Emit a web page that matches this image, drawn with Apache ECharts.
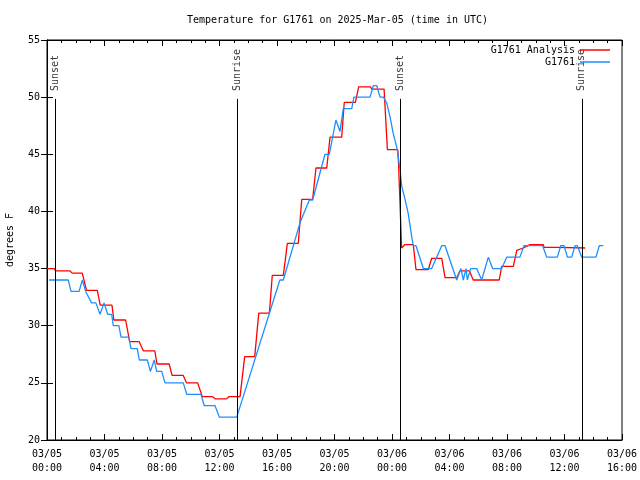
<!DOCTYPE html>
<html>
<head>
<meta charset="utf-8">
<script src="https://cdn.jsdelivr.net/npm/echarts@6/dist/echarts.min.js"></script>
<style>html,body{margin:0;padding:0;background:#fff}#c{width:640px;height:480px}</style>
</head>
<body>
<div id="c"></div>
<script>
// hours since 03/05 00:00 UTC
const analysisTimes = [0, 0.5, 0.6, 1.6, 1.75, 2.45, 2.75, 3.5, 3.7, 4.52, 4.65, 5.47, 5.75, 6.42, 6.7, 7.5, 7.65, 8.5, 8.7, 9.48, 9.7, 10.48, 10.8, 11.5, 11.7, 12.5, 12.67, 13.43, 13.75, 14.45, 14.73, 15.47, 15.67, 16.44, 16.72, 17.48, 17.72, 18.48, 18.71, 19.46, 19.69, 20.5, 20.68, 21.45, 21.68, 22.5, 22.6, 23.45, 23.68, 24.4, 24.45, 24.55, 24.67, 24.9, 25.48, 25.67, 26.52, 26.76, 27.46, 27.69, 28.5, 28.73, 29.38, 29.65, 31.46, 31.63, 32.44, 32.68, 33.13, 33.6, 34.53, 34.57, 35.64, 35.69, 37.43];
const analysisTemps = [35.0, 35.0, 34.8, 34.8, 34.6, 34.6, 33.1, 33.1, 31.8, 31.8, 30.5, 30.5, 28.6, 28.6, 27.8, 27.8, 26.65, 26.65, 25.65, 25.65, 25.0, 25.0, 23.8, 23.8, 23.6, 23.6, 23.8, 23.8, 27.3, 27.3, 31.1, 31.1, 34.4, 34.4, 37.2, 37.2, 41.05, 41.05, 43.8, 43.8, 46.5, 46.5, 49.55, 49.55, 50.9, 50.9, 50.7, 50.7, 45.4, 45.4, 44.35, 44.35, 36.8, 37.1, 37.1, 34.9, 34.9, 35.9, 35.9, 34.2, 34.2, 34.8, 34.8, 34.0, 34.0, 35.2, 35.2, 36.6, 36.8, 37.1, 37.1, 36.85, 36.85, 36.95, 36.8];

const obsTimes = [0.15, 1.48, 1.67, 2.23, 2.46, 2.69, 3.1, 3.4, 3.69, 3.97, 4.22, 4.5, 4.61, 5.0, 5.15, 5.7, 5.84, 6.28, 6.42, 6.98, 7.19, 7.46, 7.63, 7.98, 8.21, 9.48, 9.72, 10.71, 10.94, 11.69, 11.99, 13.2, 16.2, 16.44, 17.6, 17.72, 18.25, 18.48, 19.34, 19.64, 20.1, 20.38, 20.61, 21.2, 21.35, 22.47, 22.7, 22.94, 23.17, 23.4, 23.63, 23.86, 24.09, 24.37, 24.56, 24.68, 24.9, 25.13, 25.37, 25.48, 25.67, 26.18, 26.76, 27.46, 27.69, 28.5, 28.8, 28.96, 29.15, 29.24, 29.47, 29.89, 30.24, 30.7, 31.0, 31.63, 31.98, 32.9, 33.18, 34.48, 34.76, 35.5, 35.74, 35.97, 36.2, 36.5, 36.73, 36.89, 37.2, 38.19, 38.42, 38.7];
const obsTemps = [34, 34, 33, 33, 34, 33, 32, 32, 31, 32, 31, 31, 30, 30, 29, 29, 28, 28, 27, 27, 26, 27, 26, 26, 25, 25, 24, 24, 23, 23, 22, 22, 34, 34, 39, 39, 41, 41, 45, 45, 48, 47, 49, 49, 50, 50, 51, 51, 50, 50, 49.5, 48.3, 46.8, 45.4, 43.6, 42.2, 41.1, 39.8, 37.8, 37, 37, 35, 35, 37, 37, 34, 35, 34, 35, 34, 35, 35, 34, 36, 35, 35, 36, 36, 37, 37, 36, 36, 37, 37, 36, 36, 37, 37, 36, 36, 37, 37];

const sunTimes = [0.58, 13.23, 24.58, 37.2];
const sunLabels = ['Sunset', 'Sunrise', 'Sunset', 'Sunrise'];

const xTickDays = ['03/05', '03/06'];
const FONT = 'DejaVu Sans Mono';

const zip = (a, b) => a.map((t, i) => [t, b[i]]);

function xLabel(h) {
  const d = xTickDays[Math.floor(h / 24)] || xTickDays[xTickDays.length - 1];
  const hh = Math.round(h % 24);
  return d + '\n' + String(hh).padStart(2, '0') + ':00';
}

const axisCommonX = {
  type: 'value', min: 0, max: 40, interval: 4,
  axisLine: { show: true, lineStyle: { color: '#000', width: 1 } },
  axisTick: { show: true, inside: true, length: 6, lineStyle: { color: '#000' } },
  minorTick: { show: true, splitNumber: 4, length: 3, lineStyle: { color: '#000' } },
  splitLine: { show: false }
};
const axisCommonY = {
  type: 'value', min: 20, max: 55, interval: 5,
  axisLine: { show: true, lineStyle: { color: '#000', width: 1 } },
  axisTick: { show: true, inside: true, length: 6, lineStyle: { color: '#000' } },
  splitLine: { show: false }
};

const chart = echarts.init(document.getElementById('c'));
chart.setOption({
  animation: false,
  textStyle: { fontFamily: FONT },
  title: {
    text: 'Temperature for G1761 on 2025-Mar-05 (time in UTC)',
    left: 182, top: 10,
    textStyle: { fontSize: 10, fontWeight: 'normal', color: '#000', fontFamily: FONT }
  },
  grid: { left: 47, right: 18, top: 40, bottom: 40, show: true, borderColor: '#000', borderWidth: 1, backgroundColor: 'transparent', containLabel: false, outerBoundsMode: 'none' },
  legend: {
    data: ['G1761 Analysis', 'G1761'],
    orient: 'vertical', right: 25, top: 40, align: 'right',
    icon: 'rect', itemWidth: 30, itemHeight: 1.5, itemGap: 2,
    textStyle: { fontSize: 10, color: '#000', fontFamily: FONT }
  },
  xAxis: [
    Object.assign({}, axisCommonX, {
      position: 'bottom',
      axisLabel: { formatter: xLabel, fontSize: 10, color: '#000', lineHeight: 14, margin: 7, fontFamily: FONT, showMaxLabel: true, showMinLabel: true }
    }),
    Object.assign({}, axisCommonX, { position: 'top', axisLabel: { show: false } })
  ],
  yAxis: [
    Object.assign({}, axisCommonY, {
      position: 'left',
      name: 'degrees F', nameLocation: 'middle', nameGap: 32,
      nameTextStyle: { fontSize: 10, color: '#000', fontFamily: FONT },
      axisLabel: { fontSize: 10, color: '#000', margin: 7, fontFamily: FONT }
    }),
    Object.assign({}, axisCommonY, { position: 'right', axisLabel: { show: false } })
  ],
  series: [
    {
      name: 'G1761 Analysis', type: 'line', data: zip(analysisTimes, analysisTemps),
      showSymbol: false, symbol: 'none', lineStyle: { color: '#ff0000', width: 1.3 }, itemStyle: { color: '#ff0000' },
      silent: true, z: 3
    },
    {
      name: 'G1761', type: 'line', data: zip(obsTimes, obsTemps),
      showSymbol: false, symbol: 'none', lineStyle: { color: '#1e8fff', width: 1.3 }, itemStyle: { color: '#1e8fff' },
      silent: true, z: 4
    },
    {
      name: 'sun', type: 'line', data: [], silent: true,
      markLine: {
        symbol: ['none', 'none'], silent: true, animation: false,
        label: { show: false },
        lineStyle: { color: '#000', width: 1, type: 'solid' },
        data: sunTimes.map(t => [{ coord: [t, 20] }, { coord: [t, 49.85] }])
      }
    },
    {
      name: 'sunLabels', type: 'scatter', silent: true, symbolSize: 0,
      data: sunTimes.map((t, i) => ({ value: [t, 50.45], name: sunLabels[i] })),
      label: {
        show: true, formatter: p => p.name, position: 'inside', rotate: 90,
        align: 'left', verticalAlign: 'middle', offset: [1, 0],
        fontSize: 10, color: '#000', fontFamily: FONT
      }
    }
  ]
});
</script>
</body>
</html>
